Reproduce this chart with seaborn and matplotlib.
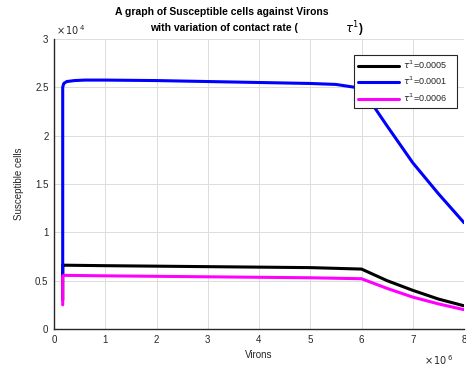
import matplotlib
matplotlib.use("Agg")
import matplotlib.pyplot as plt
import seaborn as sns
import numpy as np
import pandas as pd

# Data (x in units of 1e6, y in units of 1e4)
labels = [r"$\tau^{1}$=0.0005", r"$\tau^{1}$=0.0001", r"$\tau^{1}$=0.0006"]
colors = ["#000000", "#0000FF", "#FF00FF"]

x_black = [0.17, 0.17, 0.2, 1, 2, 3, 4, 5, 6, 6.5, 7, 7.5, 8]
y_black = [0.30, 0.66, 0.66, 0.655, 0.65, 0.645, 0.64, 0.635, 0.62, 0.50, 0.40, 0.31, 0.24]

x_blue = [0.17, 0.17, 0.19, 0.25, 0.4, 0.6, 1, 2, 3, 4, 5, 5.5, 6, 6.5, 7, 7.5, 8]
y_blue = [0.55, 2.50, 2.54, 2.56, 2.57, 2.575, 2.575, 2.57, 2.56, 2.55, 2.54, 2.53, 2.49, 2.10, 1.72, 1.40, 1.10]

x_mag = [0.17, 0.17, 0.2, 1, 2, 3, 4, 5, 6, 6.5, 7, 7.5, 8]
y_mag = [0.25, 0.55, 0.555, 0.55, 0.545, 0.54, 0.535, 0.53, 0.52, 0.42, 0.33, 0.26, 0.20]

xticks = [0, 1, 2, 3, 4, 5, 6, 7, 8]
yticks = [0, 0.5, 1, 1.5, 2, 2.5, 3]
ytick_labels = ["0", "0.5", "1", "1.5", "2", "2.5", "3"]

sns.set_style("white")
plt.rcParams['font.family'] = ['Liberation Sans', 'DejaVu Sans']

fig = plt.figure(figsize=(4.66, 3.69), dpi=100)
ax = fig.add_axes([54/466, 1-329/369, 410/466, 290/369])

series = [(x_black, y_black), (x_blue, y_blue), (x_mag, y_mag)]
for (xs, ys), lab, c in zip(series, labels, colors):
    df = pd.DataFrame({"x": xs, "y": ys})
    sns.lineplot(data=df, x="x", y="y", sort=False, estimator=None,
                 color=c, linewidth=2.2, label=lab + "   ", ax=ax)

ax.set_xlim(0, 8)
ax.set_ylim(0, 3)
ax.set_xticks(xticks)
ax.set_yticks(yticks)
ax.set_yticklabels(ytick_labels)
ax.grid(True, color="#dcdcdc", linewidth=0.7)
ax.tick_params(direction="in", length=3, labelsize=7, colors="#262626", pad=4)
for s in ["left", "bottom"]:
    ax.spines[s].set_color("#262626")
    ax.spines[s].set_linewidth(1.0)
for s in ["top", "right"]:
    ax.spines[s].set_visible(False)

ax.set_xlabel("Virons", fontsize=7, color="#262626", labelpad=4)
ax.set_ylabel("Susceptible cells", fontsize=7, color="#262626", labelpad=8)

ax.text(0.005, 1.008, r"$\times\,10^{\,4}$", transform=ax.transAxes, fontsize=7,
        color="#262626", ha="left", va="bottom")
ax.text(0.975, -0.085, r"$\times\,10^{\,6}$", transform=ax.transAxes, fontsize=7,
        color="#262626", ha="right", va="top")

fig.text(222/466, 1-12/369, "A graph of Susceptible cells against Virons",
         fontsize=7.5, fontweight="bold", ha="center", va="center", color="#000000")
fig.text(150/466, 1-28/369, "with variation of contact rate (",
         fontsize=7.5, fontweight="bold", ha="left", va="center", color="#000000")
fig.text(345/466, 1-29/369, r"$\tau^{1}$)",
         fontsize=8.5, fontweight="bold", ha="left", va="center", color="#000000")

leg = ax.legend(loc="upper left", bbox_to_anchor=(349/466, 1-50/369),
                bbox_transform=fig.transFigure, fontsize=6.5, frameon=True,
                fancybox=False, handlelength=4.6, borderpad=0.45, labelspacing=0.45,
                handletextpad=0.4, framealpha=1)
leg.get_frame().set_edgecolor("#262626")
leg.get_frame().set_linewidth(0.8)

fig.savefig("out.png", dpi=100)
